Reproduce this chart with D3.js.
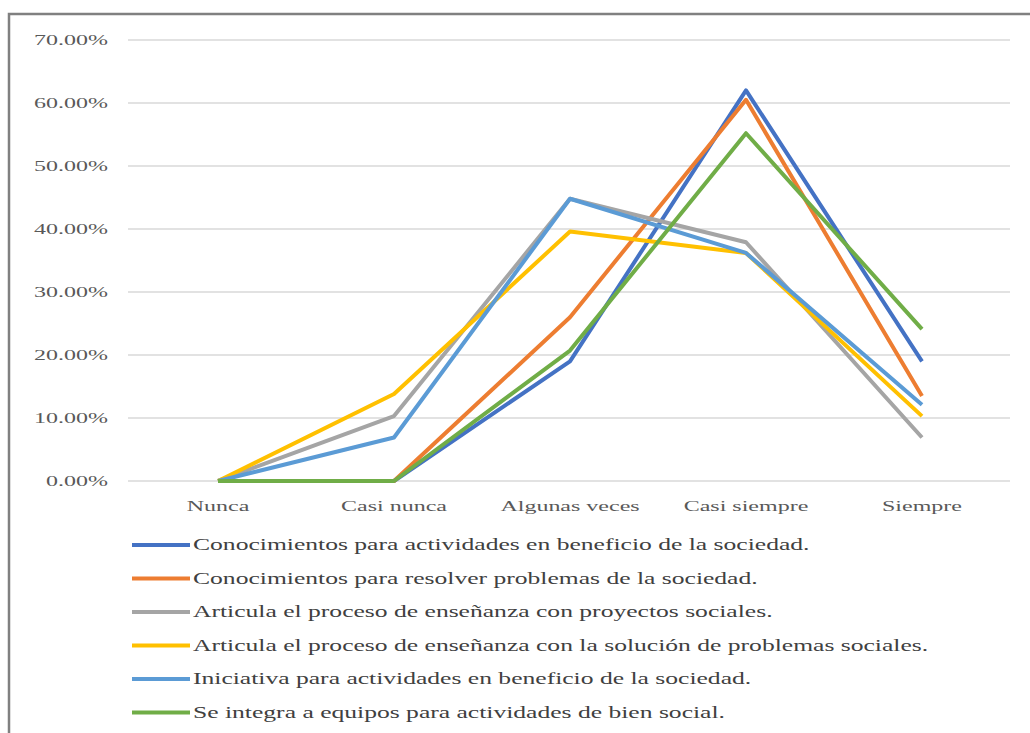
<!DOCTYPE html>
<html><head><meta charset="utf-8">
<script src="https://cdn.jsdelivr.net/npm/d3@7"></script>
<style>
body{margin:0;background:#fff;}
svg text{font-family:"Liberation Serif","Times New Roman",serif;}
</style></head>
<body><svg id="c" width="1030" height="733"></svg>
<script>
const categories = ["Nunca","Casi nunca","Algunas veces","Casi siempre","Siempre"];
const seriesNames = [
  "Conocimientos para actividades en beneficio de la sociedad.",
  "Conocimientos para resolver problemas de la sociedad.",
  "Articula el proceso de enseñanza con proyectos sociales.",
  "Articula el proceso de enseñanza con la solución de problemas sociales.",
  "Iniciativa para actividades en beneficio de la sociedad.",
  "Se integra a equipos para actividades de bien social."
];
const s1 = [0, 0, 19.0, 62.0, 19.0];
const s2 = [0, 0, 26.0, 60.5, 13.5];
const s3 = [0, 10.3, 44.8, 37.9, 6.9];
const s4 = [0, 13.8, 39.6, 36.2, 10.3];
const s5 = [0, 6.9, 44.8, 36.2, 12.1];
const s6 = [0, 0, 20.7, 55.2, 24.1];
const seriesValues = [s1, s2, s3, s4, s5, s6];
const colors = ["#4472C4","#ED7D31","#A5A5A5","#FFC000","#5B9BD5","#70AD47"];
const yTicks = [0,10,20,30,40,50,60,70];

const svg = d3.select("#c");
const SX = 1.6;
svg.append("rect").attr("x",9).attr("y",14).attr("width",1040).attr("height",740)
  .attr("fill","#fff").attr("stroke","#808080").attr("stroke-width",2.5);

const x = d3.scaleBand().domain(categories).range([130,1010]);
const y = d3.scaleLinear().domain([0,70]).range([481,40]);

// gridlines
svg.append("g").selectAll("line").data(yTicks).join("line")
  .attr("x1",128).attr("x2",1010).attr("y1",d=>y(d)).attr("y2",d=>y(d))
  .attr("stroke","#d9d9d9").attr("stroke-width",1.5);

// y labels
svg.append("g").selectAll("text").data(yTicks).join("text")
  .attr("transform",d=>`translate(108,${y(d)+5}) scale(${SX},1)`)
  .attr("text-anchor","end").attr("font-size",15).attr("fill","#595959")
  .text(d=>d3.format(".2f")(d)+"%");

// x labels
svg.append("g").selectAll("text").data(categories).join("text")
  .attr("transform",d=>`translate(${x(d)+x.bandwidth()/2},${511}) scale(${SX},1)`)
  .attr("text-anchor","middle").attr("font-size",15).attr("fill","#595959")
  .text(d=>d);

const line = d3.line().x((d,i)=>x(categories[i])+x.bandwidth()/2).y(d=>y(d));
svg.append("g").selectAll("path").data(seriesValues).join("path")
  .attr("d",d=>line(d)).attr("fill","none")
  .attr("stroke",(d,i)=>colors[i]).attr("stroke-width",4)
  .attr("stroke-linejoin","round");

// legend
const lg = svg.append("g").selectAll("g").data(seriesNames).join("g")
  .attr("transform",(d,i)=>`translate(132,${545+i*33.5})`);
lg.append("line").attr("x1",0).attr("x2",58).attr("y1",0).attr("y2",0)
  .attr("stroke",(d,i)=>colors[i]).attr("stroke-width",4);
lg.append("text").attr("transform",`translate(61,5) scale(${SX},1)`)
  .attr("font-size",16).attr("fill","#404040").text(d=>d);
</script></body></html>
